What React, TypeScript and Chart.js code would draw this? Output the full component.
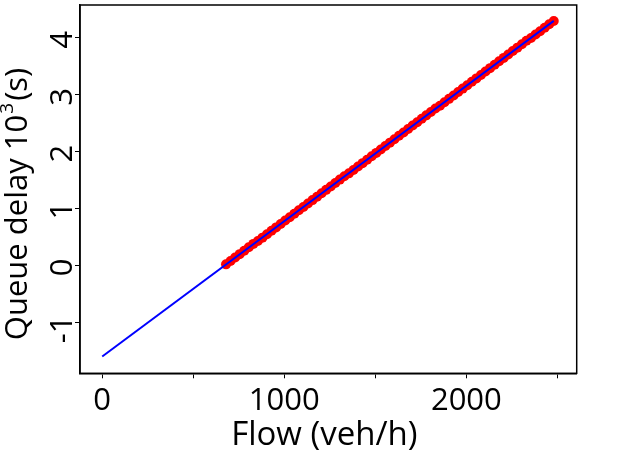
import { useEffect, useRef } from "react"
import { Chart, registerables } from "chart.js"

Chart.register(...registerables)

// flow (veh/h) of the measured points
const flows = [
  680, 705, 730, 755, 780, 805, 830, 855, 880, 905, 930, 955, 980, 1005, 1030, 1055, 1080, 1105,
  1130, 1155, 1180, 1205, 1230, 1255, 1280, 1305, 1330, 1355, 1380, 1405, 1430, 1455, 1480, 1505,
  1530, 1555, 1580, 1605, 1630, 1655, 1680, 1705, 1730, 1755, 1780, 1805, 1830, 1855, 1880, 1905,
  1930, 1955, 1980, 2005, 2030, 2055, 2080, 2105, 2130, 2155, 2180, 2205, 2230, 2255, 2280, 2305,
  2330, 2355, 2380, 2405, 2430, 2455, 2480,
]

// queue delay (10^3 s)
const delays = [
  0.02, 0.08, 0.14, 0.2, 0.26, 0.32, 0.38, 0.43, 0.49, 0.55, 0.61, 0.67, 0.73, 0.79, 0.85, 0.91, 0.97,
  1.03, 1.09, 1.15, 1.21, 1.27, 1.33, 1.39, 1.45, 1.51, 1.57, 1.62, 1.68, 1.74, 1.8, 1.86, 1.92, 1.98,
  2.04, 2.1, 2.16, 2.22, 2.28, 2.34, 2.4, 2.46, 2.52, 2.58, 2.64, 2.7, 2.76, 2.81, 2.87, 2.93, 2.99,
  3.05, 3.11, 3.17, 3.23, 3.29, 3.35, 3.41, 3.47, 3.53, 3.59, 3.65, 3.71, 3.77, 3.83, 3.89, 3.95, 4.0,
  4.06, 4.12, 4.18, 4.24, 4.3,
]

// fitted line end points
const fitFlows = [0, 2480]
const fitDelays = [-1.6, 4.3]

const xTicks = [0, 500, 1000, 1500, 2000, 2500]
const xTickLabels = [0, 1000, 2000]
const yTicks = [-1, 0, 1, 2, 3, 4]

const FONT = '"Open Sans", "Noto Sans", sans-serif'

const labelsPlugin = {
  id: "labels",
  afterDraw(chart: any) {
    const ctx = chart.ctx
    const area = chart.chartArea
    const xs = chart.scales.x
    const ys = chart.scales.y
    ctx.save()
    ctx.strokeStyle = "#000"
    ctx.lineWidth = 1.5
    ctx.strokeRect(area.left, area.top, area.right - area.left, area.bottom - area.top)

    ctx.fillStyle = "#000"
    ctx.font = "31px " + FONT
    ctx.textBaseline = "alphabetic"
    ctx.textAlign = "center"
    xTickLabels.forEach((v) => {
      ctx.fillText(String(v), xs.getPixelForValue(v), area.bottom + 37)
    })
    ctx.font = "33px " + FONT
    ctx.fillText("Flow (veh/h)", (area.left + area.right) / 2 - 4, area.bottom + 72)

    // rotated y tick labels
    ctx.font = "31px " + FONT
    yTicks.forEach((v) => {
      const digits = String(Math.abs(v))
      ctx.save()
      ctx.translate(area.left - 8, ys.getPixelForValue(v) + 2)
      ctx.rotate(-Math.PI / 2)
      ctx.textAlign = "center"
      ctx.fillText(digits, 0, 0)
      if (v < 0) {
        const w = ctx.measureText(digits).width
        ctx.textAlign = "right"
        ctx.fillText("-", -w / 2, 0)
      }
      ctx.restore()
    })

    // y title with superscript
    const main = "Queue delay 10"
    const sup = "3"
    const rest = "(s)"
    ctx.save()
    ctx.translate(area.left - 53, 204)
    ctx.rotate(-Math.PI / 2)
    ctx.textAlign = "left"
    ctx.font = "31px " + FONT
    const wMain = ctx.measureText(main).width
    const wRest = ctx.measureText(rest).width
    ctx.font = "19px " + FONT
    const wSup = ctx.measureText(sup).width
    const total = wMain + wSup + 3 + wRest
    let u = -total / 2
    ctx.font = "31px " + FONT
    ctx.fillText(main, u, 0)
    u += wMain + 1
    ctx.font = "19px " + FONT
    ctx.fillText(sup, u, -14)
    u += wSup + 2
    ctx.font = "31px " + FONT
    ctx.fillText(rest, u, 0)
    ctx.restore()

    ctx.restore()
  },
}

export default function App() {
  const chartRef = useRef<HTMLCanvasElement>(null)
  const chartInstance = useRef<Chart | null>(null)

  useEffect(() => {
    if (!chartRef.current) return
    if (chartInstance.current) chartInstance.current.destroy()
    const ctx = chartRef.current.getContext("2d")
    if (!ctx) return

    chartInstance.current = new Chart(ctx, {
      type: "scatter",
      data: {
        datasets: [
          {
            label: "Fit",
            data: fitFlows.map((x, i) => ({ x, y: fitDelays[i] })),
            showLine: true,
            borderColor: "#0000ff",
            borderWidth: 2,
            pointRadius: 0,
          },
          {
            label: "Data",
            data: flows.map((x, i) => ({ x, y: delays[i] })),
            backgroundColor: "#ff0000",
            borderWidth: 0,
            pointRadius: 5,
          },
        ],
      },
      options: {
        responsive: true,
        maintainAspectRatio: false,
        animation: false,
        layout: { padding: { top: 4.3, right: 63.3, left: 0, bottom: 0 } },
        plugins: { legend: { display: false }, tooltip: { enabled: false } },
        scales: {
          x: {
            type: "linear",
            min: -122,
            max: 2606,
            afterBuildTicks: (scale: any) => {
              scale.ticks = xTicks.map((value) => ({ value }))
            },
            afterFit: (scale: any) => {
              scale.height = 98.7
            },
            ticks: { display: false },
            grid: { drawOnChartArea: false, drawTicks: true, tickLength: 5, color: "#000", tickWidth: 1 },
            border: { display: true, color: "#000", width: 1.5 },
          },
          y: {
            type: "linear",
            min: -1.895,
            max: 4.58,
            afterBuildTicks: (scale: any) => {
              scale.ticks = yTicks.map((value) => ({ value }))
            },
            afterFit: (scale: any) => {
              scale.width = 80
            },
            ticks: { display: false },
            grid: { drawOnChartArea: false, drawTicks: true, tickLength: 5, color: "#000", tickWidth: 1 },
            border: { display: true, color: "#000", width: 1.5 },
          },
        },
      },
      plugins: [labelsPlugin],
    })

    return () => {
      if (chartInstance.current) {
        chartInstance.current.destroy()
        chartInstance.current = null
      }
    }
  }, [])

  return (
    <div style={{ position: "fixed", left: 0, top: 0, width: 640, height: 472, background: "#fff" }}>
      <canvas ref={chartRef}></canvas>
    </div>
  )
}
